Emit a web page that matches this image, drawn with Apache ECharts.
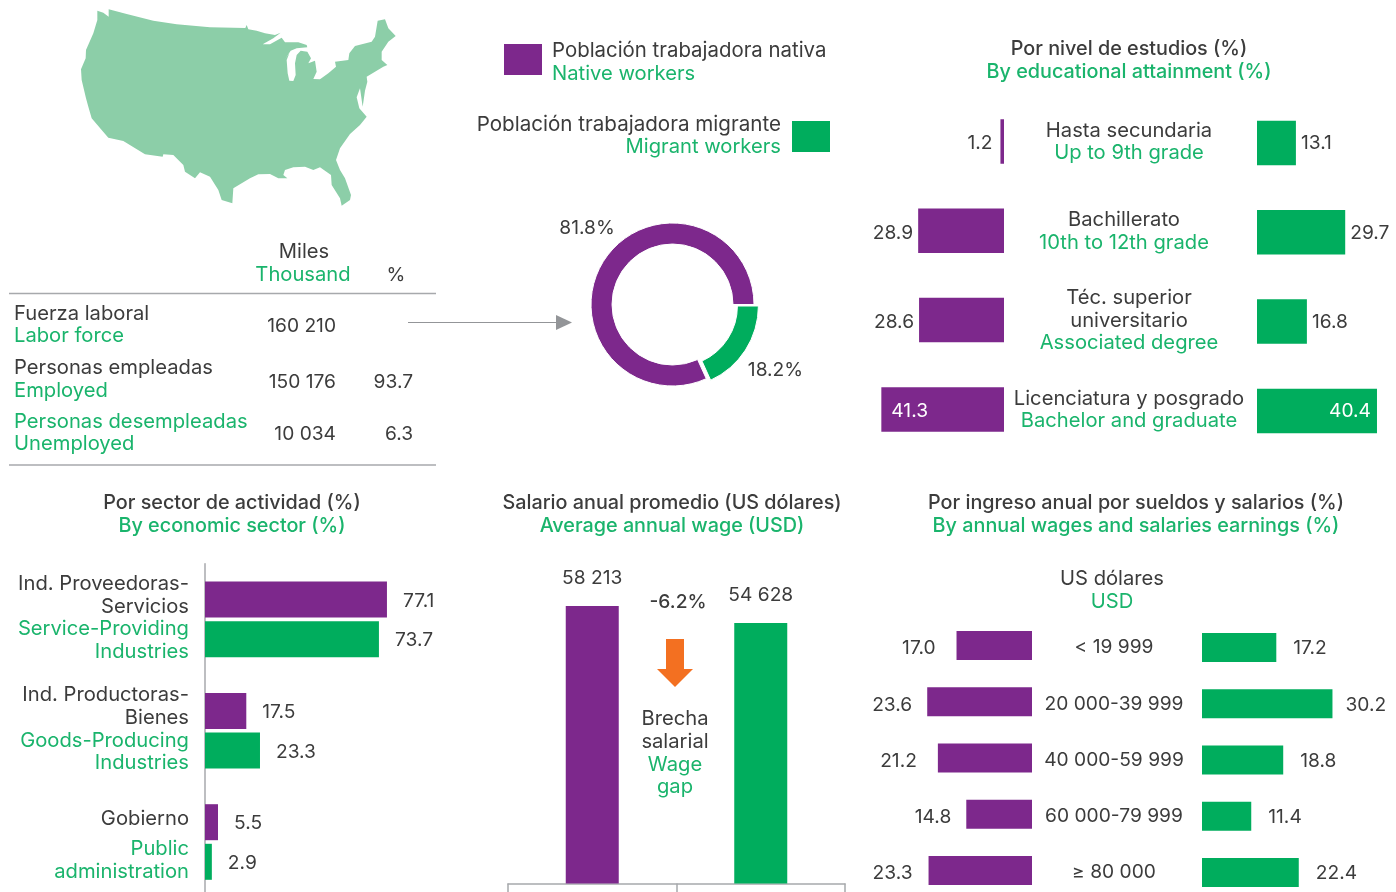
<!DOCTYPE html>
<html><head><meta charset="utf-8">
<style>html,body{margin:0;padding:0;background:#fff}#c{width:1396px;height:892px}</style>
<script src="https://cdn.jsdelivr.net/npm/echarts@6/dist/echarts.min.js"></script>
</head><body><div id="c"></div>
<script>
const PURPLE='#7D288C', GREEN='#00AD5D', TXT='#3c3c3c', GTXT='#1AB46C', GREY='#a7a9ac', FONT='Inter';
const FS=20.2, TS=19.8, NS=19.2;

// data
const donutNames=['Migrant workers','Native workers'];
const donutValues=[18.2,81.8];
const eduEs=['Hasta secundaria','Bachillerato','Téc. superior\nuniversitario','Licenciatura y posgrado'];
const eduEn=['Up to 9th grade','10th to 12th grade','Associated degree','Bachelor and graduate'];
const eduNative=[1.2,28.9,28.6,41.3];
const eduMigrant=[13.1,29.7,16.8,40.4];
const sectorEs=['Ind. Proveedoras-\nServicios','Ind. Productoras-\nBienes','Gobierno'];
const sectorEn=['Service-Providing\nIndustries','Goods-Producing\nIndustries','Public\nadministration'];
const sectorNative=[77.1,17.5,5.5];
const sectorMigrant=[73.7,23.3,2.9];
const wageCats=['Native','Migrant'];
const wageValues=[58213,54628];
const incomeCats=['< 19 999','20 000-39 999','40 000-59 999','60 000-79 999','≥ 80 000'];
const incomeNative=[17.0,23.6,21.2,14.8,23.3];
const incomeMigrant=[17.2,30.2,18.8,11.4,22.4];
const tableRows=[
 ['Fuerza laboral','Labor force','160 210',''],
 ['Personas empleadas','Employed','150 176','93.7'],
 ['Personas desempleadas','Unemployed','10 034','6.3']];

// decorative outline of the contiguous US (traced, 3x pixel space)
const usOutline=[[112,32],[130,38],[146,50],[146,28],[200,42],[280,62],[350,73],[450,82],[556,84],[560,75],[565,88],[590,92],[615,100],[645,105],[662,98],[640,115],[608,133],[630,133],[665,113],[675,127],[715,127],[740,135],[742,142],[710,145],[692,152],[675,178],[688,160],[680,180],[683,220],[688,242],[700,243],[707,225],[705,190],[710,165],[722,152],[742,155],[753,175],[745,190],[765,182],[770,215],[760,237],[780,238],[805,220],[828,200],[825,185],[865,180],[868,160],[885,138],[935,125],[945,110],[953,62],[975,58],[985,85],[1007,108],[985,125],[965,155],[965,180],[982,195],[970,200],[950,212],[920,230],[922,245],[915,272],[908,320],[900,265],[890,292],[898,325],[920,350],[900,375],[870,402],[840,445],[828,480],[840,510],[855,535],[873,585],[870,600],[845,617],[840,595],[815,555],[813,525],[780,502],[760,510],[735,500],[700,502],[675,510],[670,525],[682,535],[655,535],[630,522],[595,523],[570,535],[520,565],[517,610],[485,600],[475,570],[450,530],[420,517],[405,535],[375,515],[370,495],[340,465],[310,463],[308,470],[255,463],[190,423],[145,413],[125,390],[95,355],[85,320],[78,295],[65,240],[63,208],[77,175],[78,150],[100,100],[112,60]];

const T=(x,y,text,color,align,weight,size)=>({type:'text',x,y:y+1,silent:true,style:{text,fill:color||TXT,align:align||'center',verticalAlign:'middle',font:`${weight||400} ${size||FS}px ${FONT}`}});
const title=(x,y,es,en)=>[T(x,y,es,TXT,'center',500,TS),T(x,y+23,en,GTXT,'center',500,TS)];
const R=(x,y,w,h,c)=>({type:'rect',shape:{x,y,width:w,height:h},style:{fill:c},silent:true});
const L=(x1,y1,x2,y2,c,w)=>({type:'line',shape:{x1,y1,x2,y2},style:{stroke:c||GREY,lineWidth:w||1.5},silent:true});

const graphics=[
 {type:'polygon',x:60,y:0,scaleX:1/3,scaleY:1/3,shape:{points:usOutline},style:{fill:'#8CCEA8'},silent:true},
 T(304,251,'Miles'),T(303,274,'Thousand',GTXT),T(396,274,'%',TXT,'center',400,NS),
 L(9,293.5,436,293.5),L(9,465,436,465),
 L(408,322.5,557,322.5,'#939598',1.2),
 {type:'polygon',shape:{points:[[556,315],[572,322.5],[556,330]]},style:{fill:'#939598'},silent:true},
 R(504,44,38,31,PURPLE),T(552,50,'Población trabajadora nativa',TXT,'left',400,20.4),T(552,72.5,'Native workers',GTXT,'left'),
 R(792,121,38,31,GREEN),T(781,123.5,'Población trabajadora migrante',TXT,'right',400,20.6),T(781,146,'Migrant workers',GTXT,'right'),
 ...title(1129,48,'Por nivel de estudios (%)','By educational attainment (%)'),
 ...title(232,502,'Por sector de actividad (%)','By economic sector (%)'),
 ...title(672,502,'Salario anual promedio (US dólares)','Average annual wage (USD)'),
 ...title(1136,502,'Por ingreso anual por sueldos y salarios (%)','By annual wages and salaries earnings (%)'),
 T(678,601,'-6.2%',TXT,'center',500,NS),
 {type:'polygon',shape:{points:[[666,639],[684,639],[684,669],[693,669],[675,687],[657,669],[666,669]]},style:{fill:'#F37021'},silent:true},
 T(675,718,'Brecha'),T(675,740.5,'salarial'),T(675,763.5,'Wage',GTXT),T(675,786,'gap',GTXT),
 T(1112,578,'US dólares'),T(1112,601,'USD',GTXT)
];
const rowYs=[[313,335,325],[367,390,381],[421,443,433]];
tableRows.forEach((r,i)=>{
 graphics.push(T(14,rowYs[i][0],r[0],i==2?GTXT:TXT,'left'),T(14,rowYs[i][1],r[1],GTXT,'left'),T(336,rowYs[i][2],r[2],TXT,'right',400,NS));
 if(r[3])graphics.push(T(413,rowYs[i][2],r[3],TXT,'right',400,NS));
});

const base={fontSize:FS,fontFamily:FONT,lineHeight:22.7};
const richBase={a:{...base,color:TXT},b:{...base,color:GTXT},
 ao:{...base,color:TXT,padding:[0,10,0,0]},bo:{...base,color:GTXT,padding:[0,10,0,0]},
 s1:{fontSize:1,lineHeight:10},s2:{fontSize:1,lineHeight:7.5}};
const lines=(s,k)=>s.split('\n').map(l=>`{${k}|${l}}`).join('\n');

const grids=[], xAxes=[], yAxes=[], series=[];
function addBars(o){
 const idx=grids.length;
 grids.push(Object.assign({outerBoundsMode:'none',containLabel:false},o.grid));
 xAxes.push({gridIndex:idx,type:'value',min:0,max:o.max,inverse:!!o.inverse,show:false});
 yAxes.push(Object.assign({gridIndex:idx,type:'category',inverse:true,data:o.cats,
   axisLine:{show:false},axisTick:{show:false},axisLabel:{show:false}},o.yAxis||{}));
 o.series.forEach(s=>series.push(Object.assign({type:'bar',xAxisIndex:idx,yAxisIndex:idx,silent:true,animation:false},s)));
}
const valLabel=(pos,dist,dy)=>({show:true,position:pos,distance:dist,offset:[0,dy||0],color:TXT,fontSize:NS,fontFamily:FONT,formatter:p=>Number(p.value).toFixed(1)});

// Education
const EH=89.3, ES=2.97;
addBars({grid:{left:1004-ES*45,top:141.5-EH/2,width:ES*45,height:EH*4},max:45,inverse:true,cats:eduEs,
 series:[{name:'Native workers',barWidth:44.5,itemStyle:{color:PURPLE},label:valLabel('left',5,2),
   data:eduNative.map((v,i)=>i==3?{value:v,label:{position:'insideLeft',distance:10,color:'#fff'}}:i==0?{value:v,label:{distance:8}}:v)}]});
addBars({grid:{left:1257,top:143-EH/2,width:ES*45,height:EH*4},max:45,cats:eduEs,
 yAxis:{axisLabel:{show:true,interval:0,align:'center',margin:128,padding:[0,0,2,0],rich:richBase,
   formatter:(v,i)=>lines(eduEs[i],i==1?'ao':'a')+'\n'+lines(eduEn[i],i==1?'bo':'b')}},
 series:[{name:'Migrant workers',barWidth:44.5,itemStyle:{color:GREEN},label:valLabel('right',5,0.5),
   data:eduMigrant.map((v,i)=>i==3?{value:v,label:{position:'insideRight',distance:6,color:'#fff'}}:v)}]});

// Sector
const SH=111.3;
addBars({grid:{left:205,top:619.4-SH/2,width:236,height:SH*3},max:100,cats:sectorEs,
 yAxis:{axisLine:{show:true,onZero:false,lineStyle:{color:GREY,width:1.5}},
   axisLabel:{show:true,interval:0,align:'right',margin:16,padding:[0,0,3,0],rich:richBase,
   formatter:(v,i)=>i==2
     ?'{s1| }\n'+lines(sectorEs[i],'a')+'\n{s2| }\n'+lines(sectorEn[i],'b')
     :lines(sectorEs[i],'a')+'\n'+lines(sectorEn[i],'b')}},
 series:[
  {name:'Native workers',barWidth:36,barGap:'10%',itemStyle:{color:PURPLE},label:valLabel('right',16,1.5),data:sectorNative},
  {name:'Migrant workers',barWidth:36,itemStyle:{color:GREEN},label:valLabel('right',16,1.5),data:sectorMigrant}]});

// Wage
const wageG=grids.length;
grids.push({outerBoundsMode:'none',containLabel:false,left:508,top:883.5-60000/209.75,width:337,height:60000/209.75});
xAxes.push({gridIndex:wageG,type:'category',data:wageCats,axisLine:{lineStyle:{color:GREY,width:1.5}},
  axisTick:{show:true,length:9,lineStyle:{color:GREY,width:1.5}},axisLabel:{show:false}});
yAxes.push({gridIndex:wageG,type:'value',min:0,max:60000,show:false});
series.push({type:'bar',xAxisIndex:wageG,yAxisIndex:wageG,silent:true,animation:false,barWidth:53,
  data:wageValues.map((v,i)=>({value:v,itemStyle:{color:i?GREEN:PURPLE}})),
  label:{show:true,position:'top',distance:18,color:TXT,fontSize:NS,fontFamily:FONT,
    formatter:p=>String(p.value).replace(/\B(?=(\d{3})+$)/g,' ')}});

// Income
const IH=56.25, incGapL=[21,15,21,15,16], incGapR=[17,13,17,17,17];
addBars({grid:{left:1032-4.44*30,top:645.5-IH*0.5,width:4.44*30,height:IH*5},max:30,inverse:true,cats:incomeCats,
 series:[{name:'Native workers',barWidth:29,itemStyle:{color:PURPLE},label:valLabel('left',21,3),
   data:incomeNative.map((v,i)=>({value:v,label:{distance:incGapL[i]}}))}]});
addBars({grid:{left:1202,top:647.5-IH*0.5,width:4.32*40,height:IH*5},max:40,cats:incomeCats,
 yAxis:{axisLabel:{show:true,interval:0,align:'center',margin:88,padding:[2,0,0,0],color:TXT,fontSize:NS,fontFamily:FONT}},
 series:[{name:'Migrant workers',barWidth:29,itemStyle:{color:GREEN},label:valLabel('right',17,1),
   data:incomeMigrant.map((v,i)=>({value:v,label:{distance:incGapR[i]}}))}]});

// Donut: one ring per worker group so the migrant slice can sit slightly off-centre
const donut=(shown,center,lx,ly)=>({type:'pie',animation:false,silent:true,center,radius:[60.5,81.5],startAngle:0,clockwise:true,
 avoidLabelOverlap:false,labelLine:{show:false},
 label:{show:true,position:'outside',color:TXT,fontSize:NS,fontFamily:FONT,formatter:'{c}%'},
 labelLayout:{x:lx,y:ly,align:'center',verticalAlign:'middle'},
 data:donutNames.map((n,i)=>i===shown
   ?{name:n,value:donutValues[i],itemStyle:{color:i?PURPLE:GREEN,borderColor:'#fff',borderWidth:1}}
   :{name:n,value:donutValues[i],itemStyle:{color:'rgba(0,0,0,0)'},label:{show:false}})});
series.push(donut(1,[672.5,304.5],587,228.5));
series.push(donut(0,[676.9,306],775.5,370.5));

const chart=echarts.init(document.getElementById('c'));
chart.setOption({animation:false,backgroundColor:'#fff',textStyle:{fontFamily:FONT},grid:grids,xAxis:xAxes,yAxis:yAxes,series,graphic:graphics});
</script></body></html>
